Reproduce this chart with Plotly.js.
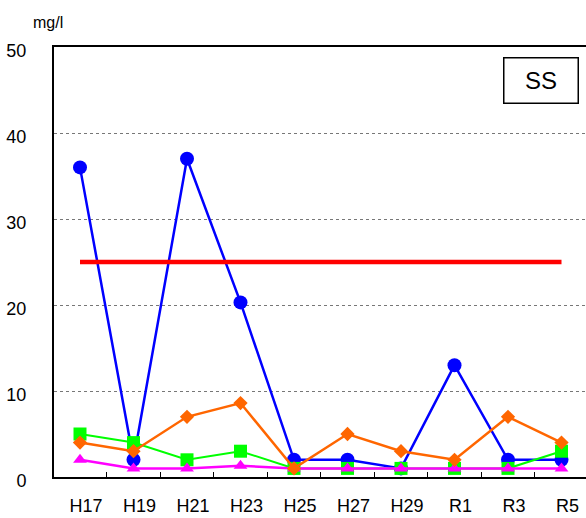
<!DOCTYPE html>
<html>
<head>
<meta charset="utf-8">
<script src="https://cdn.plot.ly/plotly-3.0.1.min.js"></script>
<style>html,body{margin:0;padding:0;background:#fff;}#chart{width:586px;height:518px;}</style>
</head>
<body>
<div id="chart"></div>
<script>
const years = ["H17","H19","H21","H23","H25","H27","H29","R1","R3","R5"];
const seriesBlue = [36, 2, 37, 20.3, 2, 2, 1, 13, 2, 2];
const seriesGreen = [5, 4, 2, 3, 1, 1, 1, 1, 1, 3];
const seriesMagenta = [2, 1, 1, 1.3, 1, 1, 1, 1, 1, 1];
const seriesOrange = [4, 3, 7, 8.6, 1, 5, 3, 2, 7, 4];
const standardValue = [25, 25, 25, 25, 25, 25, 25, 25, 25, 25];
const yTicks = [0, 10, 20, 30, 40, 50];
const unitLabel = "mg/l";
const panelLabel = "SS";

const font = "'Liberation Sans', Arial, sans-serif";
const traces = [
  {x: years, y: seriesBlue, mode: "lines+markers", line: {color: "#0000ff", width: 2.5},
   marker: {symbol: "circle", size: 14, color: "#0000ff"}},
  {x: years, y: seriesGreen, mode: "lines+markers", line: {color: "#00ff00", width: 2},
   marker: {symbol: "square", size: 13, color: "#00ff00"}},
  {x: years, y: seriesMagenta, mode: "lines+markers", line: {color: "#ff00ff", width: 2.5},
   marker: {symbol: "triangle-up", size: 12, color: "#ff00ff"}},
  {x: years, y: seriesOrange, mode: "lines+markers", line: {color: "#ff6600", width: 2.5},
   marker: {symbol: "diamond", size: 11, color: "#ff6600"}},
  {x: years, y: standardValue, mode: "lines", line: {color: "#ff0000", width: 4.5}}
];

const layout = {
  width: 586, height: 518,
  margin: {l: 54, r: 0, t: 47, b: 41},
  paper_bgcolor: "#fff", plot_bgcolor: "#fff",
  showlegend: false,
  font: {family: font, color: "#000"},
  xaxis: {
    type: "category",
    range: [-0.486, 9.458],
    tickson: "boundaries",
    ticks: "inside", ticklen: 5, tickwidth: 1, tickcolor: "#000",
    showline: true, linecolor: "#000", linewidth: 2, mirror: true,
    showgrid: false, zeroline: false,
    tickfont: {size: 18, family: font},
    ticklabelstandoff: 11,
    ticklabelshift: 6,
    fixedrange: true
  },
  yaxis: {
    range: [0, 50],
    tickvals: yTicks,
    ticks: "",
    showline: true, linecolor: "#000", linewidth: 2,
    showgrid: true, gridcolor: "#777", griddash: "dot", gridwidth: 1,
    zeroline: false,
    tickfont: {size: 18, family: font},
    ticklabelstandoff: 22,
    ticklabelshift: 4,
    fixedrange: true
  },
  annotations: [
    {text: unitLabel, xref: "paper", yref: "paper", x: -0.011, y: 1.0, xanchor: "center", yanchor: "bottom",
     yshift: 14, showarrow: false, font: {size: 16, family: font}},
    {text: panelLabel, xref: "paper", yref: "paper", x: 0.915, y: 0.923, xanchor: "center", yanchor: "middle",
     showarrow: false, font: {size: 24, family: font},
     bordercolor: "#000", borderwidth: 1.5, bgcolor: "#fff", width: 71, height: 42}
  ]
};

Plotly.newPlot("chart", traces, layout, {displayModeBar: false, staticPlot: true});
</script>
</body>
</html>
